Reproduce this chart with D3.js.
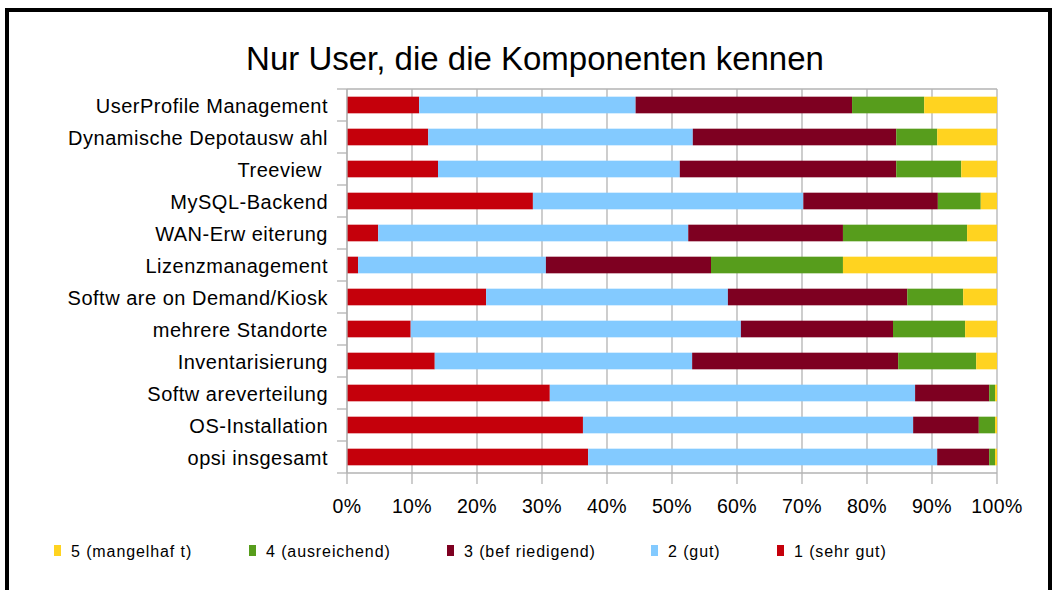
<!DOCTYPE html>
<html>
<head>
<meta charset="utf-8">
<script src="https://cdn.jsdelivr.net/npm/d3@7"></script>
<style>
  body { margin: 0; background: #fff; }
  text { font-family: "Liberation Sans", Arial, sans-serif; fill: #000; }
</style>
</head>
<body>
<div id="chart"></div>
<script>
// Kategorien (von oben nach unten)
const kategorien = [
  "UserProfile Management",
  "Dynamische Depotausw ahl",
  "Treeview ",
  "MySQL-Backend",
  "WAN-Erw eiterung",
  "Lizenzmanagement",
  "Softw are on Demand/Kiosk",
  "mehrere Standorte",
  "Inventarisierung",
  "Softw areverteilung",
  "OS-Installation",
  "opsi insgesamt"
];

// Anteile in Prozent je Note
const note1 = [11.1, 12.5, 14.0, 28.6, 4.8, 1.7, 21.4, 9.8, 13.5, 31.2, 36.3, 37.1];
const note2 = [33.3, 40.7, 37.2, 41.6, 47.7, 28.9, 37.2, 50.8, 39.6, 56.2, 50.8, 53.7];
const note3 = [33.3, 31.3, 33.3, 20.7, 23.8, 25.4, 27.6, 23.4, 31.7, 11.4, 10.1, 8.0];
const note4 = [11.1, 6.3, 10.0, 6.6, 19.1, 20.3, 8.6, 11.1, 12.0, 0.9, 2.5, 0.9];
const note5 = [11.2, 9.2, 5.5, 2.5, 4.6, 23.7, 5.2, 4.9, 3.2, 0.3, 0.3, 0.3];

const serien = ["1 (sehr gut)", "2 (gut)", "3 (bef riedigend)", "4 (ausreichend)", "5 (mangelhaf t)"];
const farben = ["#c5000b", "#83caff", "#7e0021", "#579d1c", "#ffd320"];
const xTicks = [0, 10, 20, 30, 40, 50, 60, 70, 80, 90, 100];

const width = 1055, height = 590;
const margin = {left: 347, right: 58, top: 89, bottom: 117};

const svg = d3.select("#chart").append("svg")
  .attr("width", width)
  .attr("height", height);

// Rahmen
svg.append("rect")
  .attr("x", 7).attr("y", 10)
  .attr("width", 1043).attr("height", 600)
  .attr("fill", "none")
  .attr("stroke", "#000")
  .attr("stroke-width", 4);

// Titel
svg.append("text")
  .attr("x", 535).attr("y", 70)
  .attr("text-anchor", "middle")
  .attr("font-size", 33)
  .text("Nur User, die die Komponenten kennen");

const x = d3.scaleLinear().domain([0, 100]).range([margin.left, width - margin.right]);
const y = d3.scaleBand().domain(kategorien)
  .range([margin.top, height - margin.bottom])
  .paddingInner(0.48).paddingOuter(0.24);

const grau = "#b3b3b3";

// Gitterlinien
svg.append("g").selectAll("line").data(xTicks).join("line")
  .attr("x1", d => x(d)).attr("x2", d => x(d))
  .attr("y1", margin.top).attr("y2", height - margin.bottom + 11)
  .attr("stroke", grau).attr("stroke-width", 1.3);

// obere Linie der Zeichenfläche
svg.append("line")
  .attr("x1", x(0)).attr("x2", x(100))
  .attr("y1", margin.top).attr("y2", margin.top)
  .attr("stroke", grau).attr("stroke-width", 1.3);

// gestapelte Daten
const tabelle = kategorien.map((k, i) => ({
  name: k, s0: note1[i], s1: note2[i], s2: note3[i], s3: note4[i], s4: note5[i]
}));
const stack = d3.stack().keys(["s0", "s1", "s2", "s3", "s4"]);
const gestapelt = stack(tabelle);

svg.append("g").selectAll("g").data(gestapelt).join("g")
  .attr("fill", (d, i) => farben[i])
  .selectAll("rect").data(d => d).join("rect")
  .attr("x", d => x(d[0]))
  .attr("width", d => x(d[1]) - x(d[0]))
  .attr("y", d => y(d.data.name))
  .attr("height", y.bandwidth());

// X-Achse
svg.append("line")
  .attr("x1", x(0)).attr("x2", x(100))
  .attr("y1", height - margin.bottom).attr("y2", height - margin.bottom)
  .attr("stroke", grau).attr("stroke-width", 1.3);

svg.append("g").selectAll("text").data(xTicks).join("text")
  .attr("x", d => x(d))
  .attr("y", 513)
  .attr("text-anchor", "middle")
  .attr("font-size", 19.5)
  .attr("letter-spacing", 0.4)
  .text(d => d + "%");

// Y-Achse
svg.append("line")
  .attr("x1", x(0)).attr("x2", x(0))
  .attr("y1", margin.top).attr("y2", height - margin.bottom)
  .attr("stroke", grau).attr("stroke-width", 1.3);

const step = y.step();
svg.append("g").selectAll("line").data(d3.range(kategorien.length + 1)).join("line")
  .attr("x1", x(0) - 10).attr("x2", x(0))
  .attr("y1", i => margin.top + i * step).attr("y2", i => margin.top + i * step)
  .attr("stroke", grau).attr("stroke-width", 1.3);

svg.append("g").selectAll("text").data(kategorien).join("text")
  .attr("x", 328)
  .attr("y", d => y(d) + y.bandwidth() / 2 + 8)
  .attr("text-anchor", "end")
  .attr("font-size", 20)
  .attr("letter-spacing", 0.5)
  .style("white-space", "pre")
  .text(d => d);

// Legende (umgekehrte Reihenfolge)
const legX = [54, 249, 447, 651, 777];
const legende = svg.append("g");
[4, 3, 2, 1, 0].forEach((s, j) => {
  legende.append("rect")
    .attr("x", legX[j]).attr("y", 545)
    .attr("width", 7).attr("height", 11)
    .attr("fill", farben[s]);
  legende.append("text")
    .attr("x", legX[j] + 17).attr("y", 557)
    .attr("font-size", 16)
    .attr("letter-spacing", 0.9)
    .style("white-space", "pre")
    .text(serien[s]);
});
</script>
</body>
</html>
